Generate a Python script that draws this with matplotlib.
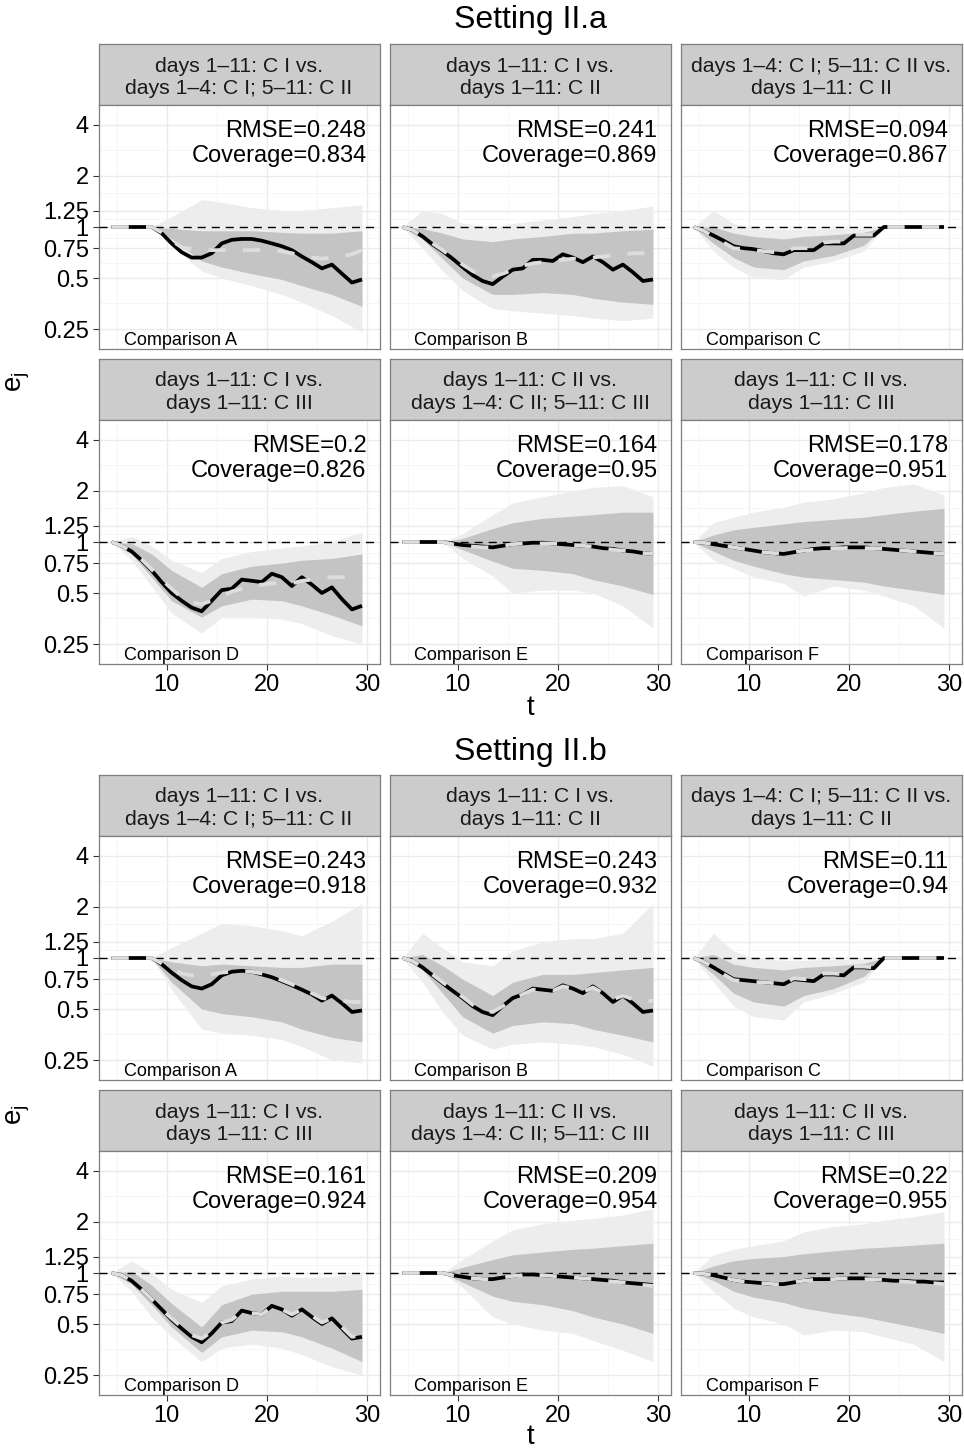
import matplotlib
matplotlib.use("Agg")
import matplotlib.pyplot as plt
from matplotlib.ticker import FixedLocator, FixedFormatter, NullFormatter

plt.rcParams["font.family"] = ["Liberation Sans", "DejaVu Sans"]
plt.rcParams["mathtext.fontset"] = "custom"
plt.rcParams["mathtext.rm"] = "Liberation Sans"

# ── Data ──────────────────────────────────────────────────────────────────────
T = [4.5, 5.5, 6.5, 7.5, 8.5, 9.5, 10.5, 11.5, 12.5, 13.5, 14.5, 15.5, 16.5,
     17.5, 18.5, 19.5, 20.5, 21.5, 22.5, 23.5, 24.5, 25.5, 26.5, 27.5, 28.5, 29.5]
BAND_T = [4.5, 6.5, 8.5, 10.5, 13.5, 15.5, 18.5, 21.5, 23.5, 26.5, 29.5]

Y_TICKS = [0.25, 0.5, 0.75, 1, 1.25, 2, 4]
Y_TICK_LABELS = ["0.25", "0.5", "0.75", "1", "1.25", "2", "4"]
X_TICKS = [10, 20, 30]

STRIPS = [
    "days 1\u201311: C I vs.\ndays 1\u20134: C I; 5\u201311: C II",
    "days 1\u201311: C I vs.\ndays 1\u201311: C II",
    "days 1\u20134: C I; 5\u201311: C II vs.\ndays 1\u201311: C II",
    "days 1\u201311: C I vs.\ndays 1\u201311: C III",
    "days 1\u201311: C II vs.\ndays 1\u20134: C II; 5\u201311: C III",
    "days 1\u201311: C II vs.\ndays 1\u201311: C III",
]
LETTERS = ["A", "B", "C", "D", "E", "F"]

RMSE_A = ["0.248", "0.241", "0.094", "0.2", "0.164", "0.178"]
COV_A = ["0.834", "0.869", "0.867", "0.826", "0.95", "0.951"]
RMSE_B = ["0.243", "0.243", "0.11", "0.161", "0.209", "0.22"]
COV_B = ["0.918", "0.932", "0.94", "0.924", "0.954", "0.955"]

# Setting II.a -- truth (black) and mean estimate (light dashed)
A_A_TRUE = [1, 1, 1, 1, 1, 0.92, 0.80, 0.71, 0.66, 0.66, 0.70, 0.80, 0.84,
            0.85, 0.85, 0.83, 0.80, 0.77, 0.73, 0.67, 0.62, 0.57, 0.60, 0.53, 0.47, 0.49]
A_A_EST = [1, 1, 1, 1, 1, 0.93, 0.83, 0.76, 0.74, 0.73, 0.73, 0.73, 0.73,
           0.73, 0.73, 0.73, 0.73, 0.72, 0.70, 0.68, 0.66, 0.65, 0.66, 0.67, 0.69, 0.73]
A_B_TRUE = [1.0, 0.96, 0.88, 0.79, 0.72, 0.65, 0.58, 0.52, 0.48, 0.46, 0.51, 0.56, 0.57,
            0.64, 0.64, 0.63, 0.69, 0.66, 0.62, 0.67, 0.62, 0.56, 0.60, 0.54, 0.48, 0.49]
A_B_EST = [1.0, 0.96, 0.88, 0.80, 0.73, 0.66, 0.60, 0.55, 0.52, 0.51, 0.53, 0.56, 0.59,
           0.61, 0.62, 0.63, 0.64, 0.65, 0.65, 0.66, 0.67, 0.68, 0.69, 0.70, 0.70, 0.70]
A_C_TRUE = [1.0, 0.95, 0.89, 0.83, 0.77, 0.75, 0.74, 0.72, 0.70, 0.69, 0.73, 0.73, 0.73,
            0.80, 0.80, 0.80, 0.89, 0.89, 0.89, 1.0, 1.0, 1.0, 1.0, 1.0, 1.0, 1.0]
A_C_EST = [1.0, 0.95, 0.88, 0.81, 0.75, 0.74, 0.73, 0.72, 0.71, 0.70, 0.75, 0.75, 0.75,
           0.81, 0.82, 0.82, 0.90, 0.90, 0.90, 1.0, 1.0, 1.0, 1.0, 1.0, 1.0, 1.0]
A_D_TRUE = [1.0, 0.95, 0.88, 0.78, 0.68, 0.58, 0.50, 0.45, 0.41, 0.39, 0.45, 0.52, 0.53,
            0.60, 0.59, 0.58, 0.65, 0.62, 0.55, 0.62, 0.56, 0.50, 0.54, 0.46, 0.40, 0.42]
A_D_EST = [1.0, 0.95, 0.88, 0.79, 0.69, 0.60, 0.53, 0.47, 0.44, 0.43, 0.45, 0.48, 0.51,
           0.53, 0.55, 0.56, 0.57, 0.57, 0.57, 0.59, 0.60, 0.61, 0.62, 0.62, 0.63, 0.65]
A_E_TRUE = [1, 1, 1, 1, 1, 0.98, 0.96, 0.95, 0.94, 0.93, 0.95, 0.97, 0.98,
            0.99, 0.99, 0.98, 0.97, 0.96, 0.95, 0.94, 0.92, 0.91, 0.89, 0.88, 0.86, 0.85]
A_E_EST = [1, 1, 1, 1, 1, 0.97, 0.95, 0.94, 0.93, 0.93, 0.95, 0.97, 0.98,
           0.98, 0.98, 0.98, 0.97, 0.96, 0.95, 0.94, 0.92, 0.90, 0.89, 0.87, 0.86, 0.85]
A_F_TRUE = [1.0, 0.99, 0.97, 0.95, 0.93, 0.91, 0.89, 0.87, 0.86, 0.85, 0.87, 0.89, 0.91,
            0.92, 0.92, 0.93, 0.93, 0.93, 0.92, 0.91, 0.90, 0.89, 0.88, 0.87, 0.86, 0.85]
A_F_EST = [1.0, 0.99, 0.97, 0.95, 0.93, 0.91, 0.89, 0.87, 0.86, 0.86, 0.87, 0.89, 0.90,
           0.91, 0.92, 0.92, 0.93, 0.92, 0.92, 0.91, 0.90, 0.89, 0.88, 0.87, 0.86, 0.85]

# Setting II.b
B_A_TRUE = [1, 1, 1, 1, 1, 0.92, 0.82, 0.74, 0.68, 0.66, 0.70, 0.79, 0.83,
            0.84, 0.83, 0.80, 0.77, 0.73, 0.69, 0.65, 0.61, 0.56, 0.60, 0.54, 0.48, 0.49]
B_A_EST = [1, 1, 1, 1, 1, 0.93, 0.86, 0.81, 0.79, 0.79, 0.80, 0.82, 0.83,
           0.84, 0.83, 0.81, 0.78, 0.74, 0.70, 0.66, 0.62, 0.58, 0.57, 0.56, 0.55, 0.55]
B_B_TRUE = [1.0, 0.96, 0.88, 0.79, 0.71, 0.64, 0.58, 0.52, 0.48, 0.46, 0.52, 0.58, 0.61,
            0.66, 0.65, 0.64, 0.69, 0.66, 0.62, 0.68, 0.62, 0.55, 0.60, 0.54, 0.48, 0.49]
B_B_EST = [1.0, 0.96, 0.88, 0.80, 0.72, 0.65, 0.59, 0.53, 0.49, 0.48, 0.52, 0.57, 0.61,
           0.65, 0.65, 0.64, 0.68, 0.66, 0.63, 0.67, 0.62, 0.57, 0.60, 0.57, 0.55, 0.56]
B_C_TRUE = [1.0, 0.95, 0.88, 0.81, 0.75, 0.74, 0.73, 0.72, 0.71, 0.70, 0.75, 0.74, 0.73,
            0.80, 0.80, 0.79, 0.88, 0.88, 0.87, 1.0, 1.0, 1.0, 1.0, 1.0, 1.0, 1.0]
B_C_EST = [1.0, 0.95, 0.88, 0.80, 0.74, 0.73, 0.72, 0.72, 0.71, 0.70, 0.76, 0.75, 0.75,
           0.81, 0.81, 0.80, 0.89, 0.89, 0.88, 1.0, 1.0, 1.0, 1.0, 1.0, 1.0, 1.0]
B_D_TRUE = [1.0, 0.97, 0.90, 0.80, 0.70, 0.61, 0.53, 0.47, 0.42, 0.39, 0.44, 0.51, 0.52,
            0.60, 0.58, 0.57, 0.64, 0.61, 0.56, 0.61, 0.55, 0.50, 0.54, 0.47, 0.41, 0.42]
B_D_EST = [1.0, 0.97, 0.90, 0.80, 0.70, 0.61, 0.54, 0.48, 0.43, 0.41, 0.45, 0.51, 0.53,
           0.59, 0.58, 0.57, 0.63, 0.61, 0.57, 0.61, 0.56, 0.51, 0.54, 0.48, 0.42, 0.43]
B_E_TRUE = [1, 1, 1, 1, 1, 0.97, 0.95, 0.93, 0.92, 0.92, 0.94, 0.96, 0.98,
            0.98, 0.97, 0.96, 0.95, 0.94, 0.93, 0.92, 0.91, 0.90, 0.88, 0.87, 0.86, 0.85]
B_E_EST = [1, 1, 1, 1, 1, 0.97, 0.94, 0.93, 0.92, 0.92, 0.94, 0.96, 0.97,
           0.98, 0.97, 0.96, 0.95, 0.94, 0.93, 0.92, 0.90, 0.89, 0.88, 0.86, 0.85, 0.84]
B_F_TRUE = [1.0, 0.99, 0.97, 0.94, 0.91, 0.89, 0.88, 0.87, 0.86, 0.86, 0.88, 0.90, 0.92,
            0.92, 0.92, 0.93, 0.93, 0.93, 0.92, 0.91, 0.90, 0.90, 0.89, 0.89, 0.88, 0.88]
B_F_EST = [1.0, 0.99, 0.97, 0.94, 0.91, 0.89, 0.88, 0.87, 0.86, 0.86, 0.88, 0.90, 0.91,
           0.92, 0.92, 0.93, 0.93, 0.92, 0.92, 0.91, 0.90, 0.89, 0.88, 0.88, 0.87, 0.86]

# Simulation envelopes (outer = faint lines, core = dense region), on BAND_T
A_A_OUT_HI = [1, 1, 1, 1.15, 1.45, 1.40, 1.30, 1.25, 1.25, 1.30, 1.35]
A_A_OUT_LO = [1, 1, 1, 0.78, 0.55, 0.50, 0.45, 0.40, 0.36, 0.30, 0.24]
A_A_CORE_HI = [1, 1, 1, 0.98, 0.95, 0.95, 0.95, 0.93, 0.92, 0.92, 0.95]
A_A_CORE_LO = [1, 1, 1, 0.85, 0.63, 0.58, 0.53, 0.49, 0.45, 0.40, 0.34]
A_B_OUT_HI = [1, 1.25, 1.20, 1.05, 1.00, 1.05, 1.10, 1.15, 1.20, 1.25, 1.33]
A_B_OUT_LO = [1, 0.75, 0.55, 0.42, 0.33, 0.32, 0.31, 0.30, 0.29, 0.28, 0.29]
A_B_CORE_HI = [1, 0.98, 0.92, 0.85, 0.82, 0.85, 0.88, 0.92, 0.92, 0.95, 0.97]
A_B_CORE_LO = [1, 0.85, 0.65, 0.50, 0.40, 0.40, 0.41, 0.40, 0.38, 0.36, 0.35]
A_C_OUT_HI = [1, 1.25, 1.05, 0.98, 0.97, 0.97, 0.98, 0.98, 1, 1, 1]
A_C_OUT_LO = [1, 0.72, 0.58, 0.50, 0.49, 0.58, 0.63, 0.72, 1, 1, 1]
A_C_CORE_HI = [1, 1.0, 0.92, 0.88, 0.85, 0.88, 0.90, 0.93, 1, 1, 1]
A_C_CORE_LO = [1, 0.80, 0.66, 0.58, 0.56, 0.63, 0.68, 0.78, 1, 1, 1]
A_D_OUT_HI = [1, 1.08, 0.95, 0.78, 0.66, 0.80, 0.88, 0.92, 0.95, 1.0, 1.15]
A_D_OUT_LO = [1, 0.78, 0.55, 0.38, 0.29, 0.36, 0.36, 0.35, 0.33, 0.28, 0.25]
A_D_CORE_HI = [1, 0.98, 0.85, 0.68, 0.54, 0.65, 0.72, 0.75, 0.78, 0.80, 0.85]
A_D_CORE_LO = [1, 0.85, 0.62, 0.45, 0.36, 0.42, 0.46, 0.45, 0.42, 0.37, 0.32]
A_E_OUT_HI = [1, 1, 1, 1.12, 1.45, 1.70, 1.85, 2.00, 2.10, 2.15, 1.85]
A_E_OUT_LO = [1, 1, 1, 0.80, 0.63, 0.50, 0.52, 0.52, 0.50, 0.42, 0.31]
A_E_CORE_HI = [1, 1, 1, 1.05, 1.20, 1.30, 1.38, 1.42, 1.45, 1.50, 1.50]
A_E_CORE_LO = [1, 1, 1, 0.90, 0.77, 0.70, 0.68, 0.65, 0.60, 0.55, 0.49]
A_F_OUT_HI = [1, 1.30, 1.40, 1.50, 1.60, 1.72, 1.80, 1.95, 2.10, 2.20, 1.90]
A_F_OUT_LO = [1, 0.78, 0.70, 0.62, 0.57, 0.48, 0.55, 0.52, 0.48, 0.42, 0.31]
A_F_CORE_HI = [1, 1.10, 1.18, 1.22, 1.28, 1.32, 1.36, 1.40, 1.45, 1.52, 1.58]
A_F_CORE_LO = [1, 0.88, 0.78, 0.72, 0.65, 0.62, 0.60, 0.58, 0.55, 0.52, 0.49]

B_A_OUT_HI = [1, 1, 1, 1.15, 1.40, 1.60, 1.55, 1.45, 1.35, 1.65, 2.10]
B_A_OUT_LO = [1, 1, 1, 0.65, 0.38, 0.36, 0.35, 0.33, 0.30, 0.25, 0.24]
B_A_CORE_HI = [1, 1, 1, 0.95, 0.90, 0.92, 0.90, 0.88, 0.88, 0.92, 0.92]
B_A_CORE_LO = [1, 1, 1, 0.72, 0.50, 0.47, 0.45, 0.42, 0.38, 0.34, 0.32]
B_B_OUT_HI = [1, 1.40, 1.15, 0.95, 0.90, 1.10, 1.25, 1.30, 1.30, 1.40, 2.10]
B_B_OUT_LO = [1, 0.72, 0.48, 0.35, 0.29, 0.31, 0.32, 0.31, 0.30, 0.27, 0.23]
B_B_CORE_HI = [1, 1.05, 0.90, 0.75, 0.60, 0.72, 0.80, 0.80, 0.82, 0.85, 0.88]
B_B_CORE_LO = [1, 0.85, 0.62, 0.45, 0.36, 0.40, 0.42, 0.41, 0.38, 0.35, 0.32]
B_C_OUT_HI = [1, 1.40, 1.10, 1.00, 0.97, 0.97, 0.98, 0.98, 1, 1, 1]
B_C_OUT_LO = [1, 0.72, 0.52, 0.45, 0.43, 0.55, 0.62, 0.72, 1, 1, 1]
B_C_CORE_HI = [1, 1.05, 0.92, 0.88, 0.85, 0.88, 0.90, 0.93, 1, 1, 1]
B_C_CORE_LO = [1, 0.80, 0.62, 0.55, 0.52, 0.60, 0.66, 0.78, 1, 1, 1]
B_D_OUT_HI = [1, 1.18, 1.00, 0.80, 0.67, 0.84, 0.92, 0.96, 0.94, 0.95, 1.00]
B_D_OUT_LO = [1, 0.78, 0.55, 0.42, 0.30, 0.36, 0.38, 0.36, 0.33, 0.28, 0.25]
B_D_CORE_HI = [1, 1.02, 0.85, 0.66, 0.48, 0.65, 0.75, 0.78, 0.78, 0.78, 0.80]
B_D_CORE_LO = [1, 0.86, 0.65, 0.48, 0.34, 0.42, 0.46, 0.45, 0.42, 0.36, 0.30]
B_E_OUT_HI = [1, 1, 1, 1.20, 1.55, 1.80, 1.95, 2.05, 2.10, 2.20, 2.40]
B_E_OUT_LO = [1, 1, 1, 0.82, 0.55, 0.50, 0.46, 0.44, 0.40, 0.35, 0.30]
B_E_CORE_HI = [1, 1, 1, 1.08, 1.20, 1.28, 1.33, 1.38, 1.40, 1.45, 1.50]
B_E_CORE_LO = [1, 1, 1, 0.88, 0.73, 0.68, 0.65, 0.60, 0.55, 0.50, 0.44]
B_F_OUT_HI = [1, 1.28, 1.38, 1.45, 1.55, 1.75, 1.88, 1.95, 2.05, 2.15, 2.30]
B_F_OUT_LO = [1, 0.78, 0.62, 0.55, 0.50, 0.43, 0.46, 0.45, 0.42, 0.38, 0.30]
B_F_CORE_HI = [1, 1.10, 1.18, 1.22, 1.25, 1.30, 1.35, 1.40, 1.42, 1.46, 1.50]
B_F_CORE_LO = [1, 0.90, 0.78, 0.72, 0.67, 0.62, 0.58, 0.55, 0.52, 0.48, 0.44]

SETTING_A = [
    (A_A_TRUE, A_A_EST, (A_A_OUT_LO, A_A_OUT_HI, A_A_CORE_LO, A_A_CORE_HI)),
    (A_B_TRUE, A_B_EST, (A_B_OUT_LO, A_B_OUT_HI, A_B_CORE_LO, A_B_CORE_HI)),
    (A_C_TRUE, A_C_EST, (A_C_OUT_LO, A_C_OUT_HI, A_C_CORE_LO, A_C_CORE_HI)),
    (A_D_TRUE, A_D_EST, (A_D_OUT_LO, A_D_OUT_HI, A_D_CORE_LO, A_D_CORE_HI)),
    (A_E_TRUE, A_E_EST, (A_E_OUT_LO, A_E_OUT_HI, A_E_CORE_LO, A_E_CORE_HI)),
    (A_F_TRUE, A_F_EST, (A_F_OUT_LO, A_F_OUT_HI, A_F_CORE_LO, A_F_CORE_HI)),
]
SETTING_B = [
    (B_A_TRUE, B_A_EST, (B_A_OUT_LO, B_A_OUT_HI, B_A_CORE_LO, B_A_CORE_HI)),
    (B_B_TRUE, B_B_EST, (B_B_OUT_LO, B_B_OUT_HI, B_B_CORE_LO, B_B_CORE_HI)),
    (B_C_TRUE, B_C_EST, (B_C_OUT_LO, B_C_OUT_HI, B_C_CORE_LO, B_C_CORE_HI)),
    (B_D_TRUE, B_D_EST, (B_D_OUT_LO, B_D_OUT_HI, B_D_CORE_LO, B_D_CORE_HI)),
    (B_E_TRUE, B_E_EST, (B_E_OUT_LO, B_E_OUT_HI, B_E_CORE_LO, B_E_CORE_HI)),
    (B_F_TRUE, B_F_EST, (B_F_OUT_LO, B_F_OUT_HI, B_F_CORE_LO, B_F_CORE_HI)),
]

# ── Layout (pixels) ───────────────────────────────────────────────────────────
FIG_W, FIG_H, DPI = 964, 1448, 100
COL_LEFT = [98.5, 389.5, 680.5]
PANEL_W, PANEL_H, STRIP_H = 281, 244, 61
XLIM = (3.2, 31.25)
YLIM = (2 ** -2.392, 2 ** 2.392)
Y_MINOR = [0.354, 0.612, 0.866, 1.118, 1.58, 2.83]
X_MINOR = [5, 15, 25]

GRID_MAJ = "#EBEBEB"
GRID_MIN = "#F5F5F5"
BORDER = "#7F7F7F"


def fig_rect(left, top, w, h):
    return [left / FIG_W, 1 - (top + h) / FIG_H, w / FIG_W, h / FIG_H]


def draw_panel(ax, true, est, band, rmse, cov, letter, show_x, show_y):
    lo_out, hi_out, lo_core, hi_core = band
    ax.set_yscale("log")
    ax.set_xlim(XLIM)
    ax.set_ylim(YLIM)

    ax.yaxis.set_major_locator(FixedLocator(Y_TICKS))
    ax.yaxis.set_major_formatter(FixedFormatter(Y_TICK_LABELS))
    ax.yaxis.set_minor_locator(FixedLocator(Y_MINOR))
    ax.yaxis.set_minor_formatter(NullFormatter())
    ax.xaxis.set_major_locator(FixedLocator(X_TICKS))
    ax.xaxis.set_minor_locator(FixedLocator(X_MINOR))
    ax.grid(which="major", color=GRID_MAJ, lw=1.0, zorder=0)
    ax.grid(which="minor", color=GRID_MIN, lw=0.6, zorder=0)
    ax.set_axisbelow(True)
    ax.tick_params(which="minor", length=0)
    ax.tick_params(which="major", length=4, width=0.8, color="#333333",
                   labelsize=17, labelcolor="black", pad=3)
    if not show_x:
        ax.tick_params(axis="x", which="major", length=0, labelbottom=False)
    if not show_y:
        ax.tick_params(axis="y", which="major", length=0, labelleft=False)
    for sp in ax.spines.values():
        sp.set_color(BORDER)
        sp.set_linewidth(0.9)

    ax.fill_between(BAND_T, lo_out, hi_out, color="#EDEDED", lw=0, zorder=1)
    ax.fill_between(BAND_T, lo_core, hi_core, color="#C4C4C4", lw=0, zorder=2)

    ax.axhline(1, color="black", lw=1.0, dashes=(5.8, 4.3), zorder=3)
    ax.plot(T, true, color="black", lw=2.7, solid_capstyle="butt",
            solid_joinstyle="round", zorder=4)
    ax.plot(T, est, color="#DDDDDD", lw=2.7, dashes=(4.6, 4.6),
            dash_capstyle="butt", zorder=5)

    ax.text(1 - 13 / PANEL_W, 1 - 15 / PANEL_H,
            f"RMSE={rmse}\nCoverage={cov}", transform=ax.transAxes,
            ha="right", va="top", fontsize=17, linespacing=1.2, zorder=6)
    ax.text(25 / PANEL_W, 4 / PANEL_H, f"Comparison {letter}",
            transform=ax.transAxes, ha="left", va="baseline", fontsize=13, zorder=6)


def draw_strip(fig, left, top, label):
    sax = fig.add_axes(fig_rect(left, top, PANEL_W, STRIP_H))
    sax.set_facecolor("#CCCCCC")
    sax.set_xticks([])
    sax.set_yticks([])
    for sp in sax.spines.values():
        sp.set_color(BORDER)
        sp.set_linewidth(0.9)
    line1, line2 = label.split("\n")
    sax.text(0.5, 1 - 27.5 / STRIP_H, line1, transform=sax.transAxes,
             ha="center", va="baseline", fontsize=15.3, color="#1A1A1A")
    sax.text(0.5, 1 - 50 / STRIP_H, line2, transform=sax.transAxes,
             ha="center", va="baseline", fontsize=15.3, color="#1A1A1A")


def draw_setting(fig, panels, rmse, cov, title, strip_tops, title_y, xlab_base, ylab_y):
    for i, (true, est, band) in enumerate(panels):
        row, col = divmod(i, 3)
        left = COL_LEFT[col]
        strip_top = strip_tops[row]
        draw_strip(fig, left, strip_top, STRIPS[i])
        ax = fig.add_axes(fig_rect(left, strip_top + STRIP_H, PANEL_W, PANEL_H))
        draw_panel(ax, true, est, band, rmse[i], cov[i], LETTERS[i],
                   show_x=(row == 1), show_y=(col == 0))
    fig.text(530 / FIG_W, 1 - title_y / FIG_H, title, ha="center", va="center",
             fontsize=23)
    fig.text(530 / FIG_W, 1 - xlab_base / FIG_H, "t", ha="center", va="baseline",
             fontsize=20)
    fig.text(18 / FIG_W, 1 - ylab_y / FIG_H, r"$\mathrm{e}_{\mathrm{j}}$",
             ha="center", va="center", rotation=90, fontsize=20)


fig = plt.figure(figsize=(FIG_W / DPI, FIG_H / DPI), dpi=DPI)
fig.patch.set_facecolor("white")

draw_setting(fig, SETTING_A, RMSE_A, COV_A, "Setting II.a",
             strip_tops=[44, 359], title_y=20, xlab_base=715, ylab_y=382)
draw_setting(fig, SETTING_B, RMSE_B, COV_B, "Setting II.b",
             strip_tops=[775, 1090], title_y=752, xlab_base=1444, ylab_y=1115)

fig.savefig("out.png", dpi=DPI, facecolor="white")
